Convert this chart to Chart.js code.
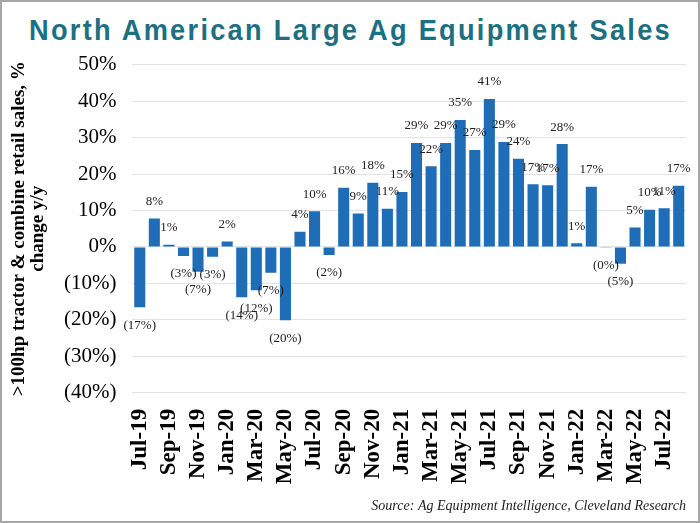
<!DOCTYPE html>
<html>
<head>
<meta charset="utf-8">
<script src="https://cdn.jsdelivr.net/npm/chart.js@4/dist/chart.umd.min.js"></script>
<style>
  html, body { margin: 0; padding: 0; background: #fff; }
  #wrap { position: relative; width: 700px; height: 523px; box-sizing: border-box; border: 2px solid #a6a6a6; background: #fff; overflow: hidden; }
  #title { position: absolute; left: 27px; top: 13px; transform-origin: 0 0;
           font-family: "Liberation Sans", "DejaVu Sans", sans-serif; font-stretch: condensed;
           font-weight: bold; font-size: 30px; line-height: 30px; letter-spacing: 2.5px; color: #1d6f82; white-space: nowrap; }
  #cv { position: absolute; left: 0; top: 34px; }
</style>
</head>
<body>
<div id="wrap">
  <div id="title">North American Large Ag Equipment Sales</div>
  <canvas id="cv" width="696" height="486"></canvas>
</div>
<script>
const categories = [
  "Jul-19","Aug-19","Sep-19","Oct-19","Nov-19","Dec-19",
  "Jan-20","Feb-20","Mar-20","Apr-20","May-20","Jun-20","Jul-20","Aug-20","Sep-20","Oct-20","Nov-20","Dec-20",
  "Jan-21","Feb-21","Mar-21","Apr-21","May-21","Jun-21","Jul-21","Aug-21","Sep-21","Oct-21","Nov-21","Dec-21",
  "Jan-22","Feb-22","Mar-22","Apr-22","May-22","Jun-22","Jul-22","Aug-22"
];
const salesChange = [
  -16.5, 7.8, 0.6, -2.5, -6.8, -2.7,
  1.5, -13.8, -11.9, -7.1, -20.1, 4.2, 9.8, -2.2, 16.2, 9.2, 17.6, 10.5,
  15.1, 28.5, 22.1, 28.5, 34.8, 26.6, 40.6, 28.8, 24.2, 17.2, 16.9, 28.2,
  1.0, 16.5, -0.2, -4.6, 5.3, 10.2, 10.6, 16.8
];
const yTickMin = -40;
const yTickMax = 50;
const yTickStep = 10;
const yAxisTitle = [">100hp tractor & combine retail sales, %", "change y/y"];
const sourceNote = "Source: Ag Equipment Intelligence, Cleveland Research";

// fit the title to its width in the reference
(function () {
  const t = document.getElementById('title');
  const w = t.getBoundingClientRect().width;
  const target = 643;
  if (w > 0) t.style.transform = 'scaleX(' + (target / w) + ')';
})();

function pct(v) {
  const r = Math.round(Math.abs(v));
  return v < 0 ? "(" + r + "%)" : r + "%";
}

const barLabels = {
  id: 'barLabels',
  afterDatasetsDraw(chart) {
    const ctx = chart.ctx;
    const meta = chart.getDatasetMeta(0);
    ctx.save();
    ctx.font = '13px "Liberation Serif", "Times New Roman", serif';
    ctx.fillStyle = '#222';
    ctx.textAlign = 'center';
    ctx.textBaseline = 'middle';
    meta.data.forEach((bar, i) => {
      const v = salesChange[i];
      const y = v < 0 ? bar.y + 18 : bar.y - 17;
      ctx.fillText(pct(v), bar.x, y);
    });
    ctx.restore();
  }
};

new Chart(document.getElementById('cv'), {
  type: 'bar',
  data: {
    labels: categories,
    datasets: [{
      data: salesChange,
      backgroundColor: '#1f6db6',
      barPercentage: 0.76,
      categoryPercentage: 1.0
    }]
  },
  options: {
    responsive: false,
    animation: false,
    layout: { padding: { left: 8, right: 12, top: 4, bottom: 3 } },
    plugins: {
      legend: { display: false },
      tooltip: { enabled: false },
      title: { display: false },
      subtitle: {
        display: true,
        text: sourceNote,
        position: 'bottom',
        align: 'end',
        color: '#222',
        font: { family: '"Liberation Serif", serif', size: 14, style: 'italic' },
        padding: { top: 6, bottom: 4 }
      }
    },
    scales: {
      x: {
        grid: { display: false },
        border: { display: false },
        afterFit: function(scale) { scale.paddingRight = 0; },
        ticks: {
          autoSkip: false,
          maxRotation: 90,
          minRotation: 90,
          padding: 8,
          color: '#000',
          font: { family: '"Liberation Serif", serif', size: 23, weight: 'bold' },
          callback: function(val, idx) { return idx % 2 === 0 ? categories[idx] : ''; }
        }
      },
      y: {
        min: yTickMin,
        max: yTickMax,
        grid: { color: '#e3e3e3', drawTicks: false, lineWidth: 1 },
        border: { display: false },
        ticks: {
          stepSize: yTickStep,
          padding: 16,
          color: '#000',
          font: { family: '"Liberation Serif", serif', size: 21 },
          callback: function(v) { return pct(v); }
        },
        title: {
          display: true,
          text: yAxisTitle,
          color: '#000',
          font: { family: '"Liberation Serif", serif', size: 19, weight: 'bold', lineHeight: 1.0 },
          padding: { top: 0, bottom: 0 }
        }
      }
    }
  },
  plugins: [barLabels]
});
</script>
</body>
</html>
